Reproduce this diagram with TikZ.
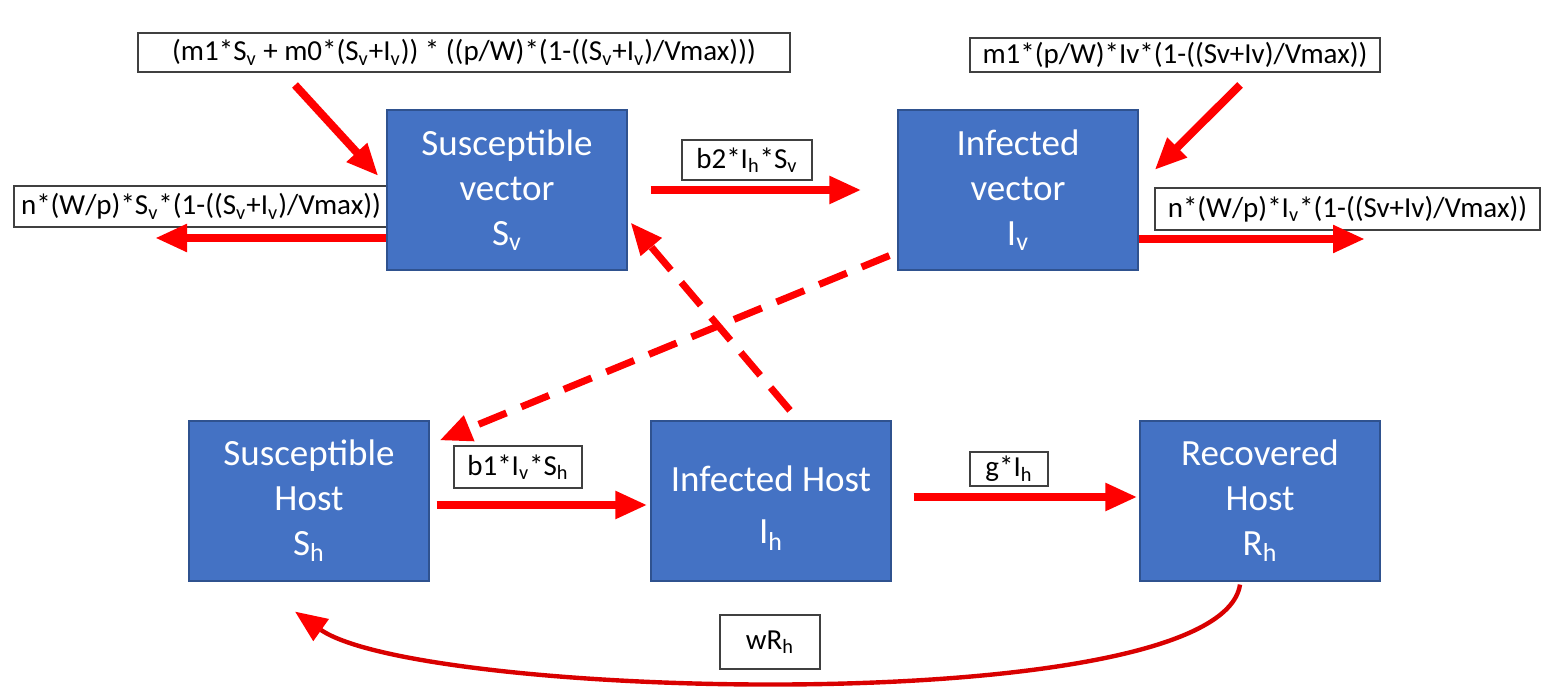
\documentclass[tikz,border=0pt]{standalone}
\usepackage{fontspec}
\setmainfont{Carlito}
\usetikzlibrary{arrows.meta}

\definecolor{boxblue}{RGB}{68,114,196}
\definecolor{boxedge}{RGB}{47,82,143}

\begin{document}
\begin{tikzpicture}[x=0.5pt,y=0.5pt,yscale=-1,xscale=1,
	statebox/.style={draw=boxedge,line width=0.6pt,fill=boxblue,text=white,minimum width=120pt,minimum height=80pt,align=center,inner sep=0pt,font=\fontsize{18.5}{22.5}\selectfont},
	ratebox/.style={draw=black!75,line width=0.8pt,fill=white,inner sep=0pt,font=\fontsize{14.5}{17}\selectfont},
	flow/.style={draw=red,line width=4pt,-{Triangle[length=16pt,width=13pt]}},
	infect/.style={flow,line width=3.5pt,dash pattern=on 15pt off 8pt}]
	\useasboundingbox (0,0) rectangle (1549,689);

	% Text Node
	\node [ratebox,minimum width=187pt,minimum height=20.5pt] (outsv) at (201,206.5) {n*(W/p)*S\textsubscript{v}*(1-((S\textsubscript{v}+I\textsubscript{v})/Vmax))};
	% Text Node
	\node [ratebox,minimum width=192.5pt,minimum height=21pt] (outiv) at (1347.5,209) {n*(W/p)*I\textsubscript{v}*(1-((Sv+Iv)/Vmax))};

	%Shape: Rectangle
	\node [statebox] (sv) at (507,190) {Susceptible\\vector\\S\textsubscript{v}};
	\node [statebox] (iv) at (1018,190) {Infected\\vector\\I\textsubscript{v}};
	\node [statebox] (sh) at (309,501) {Susceptible\\Host\\S\textsubscript{h}};
	\node [statebox,font=\fontsize{18.5}{26}\selectfont] (ih) at (771,501) {\rule{0pt}{20pt}Infected Host\\I\textsubscript{h}};
	\node [statebox] (rh) at (1260,501) {Recovered\\Host\\R\textsubscript{h}};

	% Text Node
	\node [ratebox,minimum width=326pt,minimum height=19.5pt] (birthsv) at (464,52.5) {(m1*S\textsubscript{v} + m0*(S\textsubscript{v}+I\textsubscript{v})) * ((p/W)*(1-((S\textsubscript{v}+I\textsubscript{v})/Vmax)))};
	\node [ratebox,minimum width=205pt,minimum height=17pt] (birthiv) at (1175,55) {m1*(p/W)*Iv*(1-((Sv+Iv)/Vmax))};
	\node [ratebox,minimum width=65pt,minimum height=20pt] (b2) at (747,160) {b2*I\textsubscript{h}*S\textsubscript{v}};
	\node [ratebox,minimum width=64pt,minimum height=21pt] (b1) at (518,467) {b1*I\textsubscript{v}*S\textsubscript{h}};
	\node [ratebox,minimum width=39pt,minimum height=17pt] (g) at (1009,469) {g*I\textsubscript{h}};
	\node [ratebox,minimum width=50pt,minimum height=27pt] (w) at (770,642) {wR\textsubscript{h}};

	% free ends
	\coordinate (insv) at (295,85);
	\coordinate (iniv) at (1240,85);
	\coordinate (deadsv) at (155,238);
	\coordinate (deadiv) at (1365,239);

	%Straight Lines
	\draw [flow] (insv) -- ([shift={(-4pt,-7pt)}]sv.west);
	\draw [flow] (iniv) -- ([shift={(8pt,-10pt)}]iv.east);
	\draw [flow] ([yshift=24pt]sv.west) -- (deadsv);
	\draw [flow] ([yshift=24.5pt]iv.east) -- (deadiv);
	\draw [flow] ([xshift=11.5pt]sv.east) -- ([xshift=-18pt]iv.west);
	\draw [flow] ([shift={(3.5pt,2pt)}]sh.east) -- ([shift={(-1.5pt,2pt)}]ih.west);
	\draw [flow] ([shift={(11pt,-2pt)}]ih.east) -- ([shift={(-1pt,-2pt)}]rh.west);

	%Dashed Lines
	\draw [infect] ([shift={(9.5pt,-5pt)}]ih.north) -- ([shift={(1.5pt,-24pt)}]sv.south east);
	\draw [infect] ([shift={(-4pt,-7.5pt)}]iv.south west) -- ([shift={(5pt,10pt)}]sh.north east);

	%Curve Lines
	\draw [draw=red!85!black,line width=2.2pt,-{Triangle[length=16pt,width=13pt,color=red]}] ([xshift=-10pt,yshift=1.5pt]rh.south) .. controls (1220,720) and (420,700) .. ([shift={(-7pt,15pt)}]sh.south);
\end{tikzpicture}
\end{document}
